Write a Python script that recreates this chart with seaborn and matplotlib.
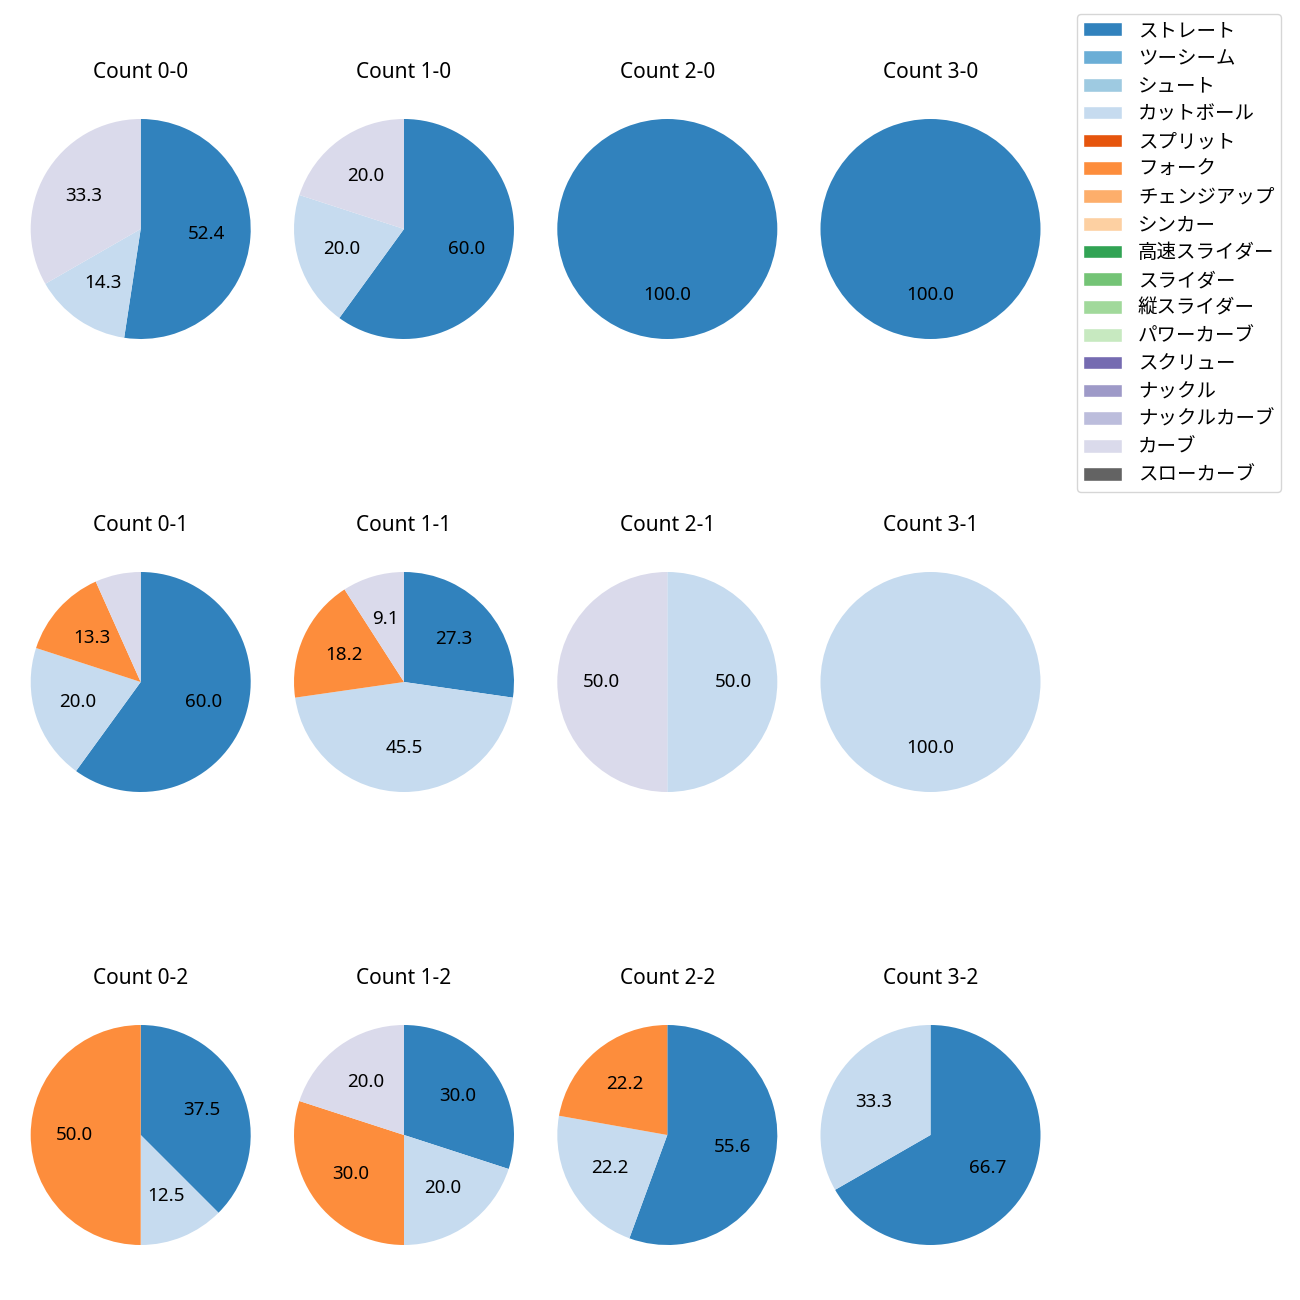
import matplotlib
matplotlib.use("Agg")
import matplotlib.pyplot as plt
import seaborn as sns
from matplotlib.patches import Patch

sns.set_theme(style="white")
plt.rcParams['font.family'] = ['Noto Sans', 'Noto Sans CJK JP', 'DejaVu Sans']
plt.rcParams['text.color'] = 'black'

pitch_types = ["ストレート", "ツーシーム", "シュート", "カットボール", "スプリット", "フォーク",
               "チェンジアップ", "シンカー", "高速スライダー", "スライダー", "縦スライダー",
               "パワーカーブ", "スクリュー", "ナックル", "ナックルカーブ", "カーブ", "スローカーブ"]

counts = ["0-0", "1-0", "2-0", "3-0",
          "0-1", "1-1", "2-1", "3-1",
          "0-2", "1-2", "2-2", "3-2"]

# shares (%) per count, per pitch type shown
count_00 = {"ストレート": 52.4, "カットボール": 14.3, "カーブ": 33.3}
count_10 = {"ストレート": 60.0, "カットボール": 20.0, "カーブ": 20.0}
count_20 = {"ストレート": 100.0}
count_30 = {"ストレート": 100.0}
count_01 = {"ストレート": 60.0, "カットボール": 20.0, "フォーク": 13.3, "カーブ": 6.7}
count_11 = {"ストレート": 27.3, "カットボール": 45.5, "フォーク": 18.2, "カーブ": 9.1}
count_21 = {"カットボール": 50.0, "カーブ": 50.0}
count_31 = {"カットボール": 100.0}
count_02 = {"ストレート": 37.5, "カットボール": 12.5, "フォーク": 50.0}
count_12 = {"ストレート": 30.0, "カットボール": 20.0, "フォーク": 30.0, "カーブ": 20.0}
count_22 = {"ストレート": 55.6, "カットボール": 22.2, "フォーク": 22.2}
count_32 = {"ストレート": 66.7, "カットボール": 33.3}

count_data = [count_00, count_10, count_20, count_30,
              count_01, count_11, count_21, count_31,
              count_02, count_12, count_22, count_32]

palette = sns.color_palette("tab20c", 20)[:len(pitch_types)]
color_map = dict(zip(pitch_types, palette))

fig = plt.figure(figsize=(13, 13), dpi=100)
W = H = 1300.0
side = 275.0
col_centers = [140.7, 404.0, 667.3, 930.5]
row_centers = [229.0, 682.0, 1135.0]


def autopct(p):
    return f"{p:.1f}" if p >= 8 else ""


for i, (cnt, d) in enumerate(zip(counts, count_data)):
    r, c = divmod(i, 4)
    cx, cy = col_centers[c], row_centers[r]
    ax = fig.add_axes([(cx - side / 2) / W, 1 - (cy + side / 2) / H, side / W, side / H])
    labels = [p for p in pitch_types if p in d]
    vals = [d[p] for p in labels]
    ax.pie(vals, colors=[color_map[p] for p in labels], startangle=90,
           counterclock=False, autopct=autopct, textprops={"fontsize": 13.5, "color": "black"},
           wedgeprops={"linewidth": 0})
    ax.set_title(f"Count {cnt}", fontsize=15, pad=10, color="black")

handles = [Patch(facecolor=color_map[p], label=p) for p in pitch_types]
fig.legend(handles=handles, loc="upper right", bbox_to_anchor=(0.993, 0.9965),
           fontsize=14, labelspacing=0.4, borderpad=0.35, frameon=True)

fig.savefig("out.png", dpi=100)
